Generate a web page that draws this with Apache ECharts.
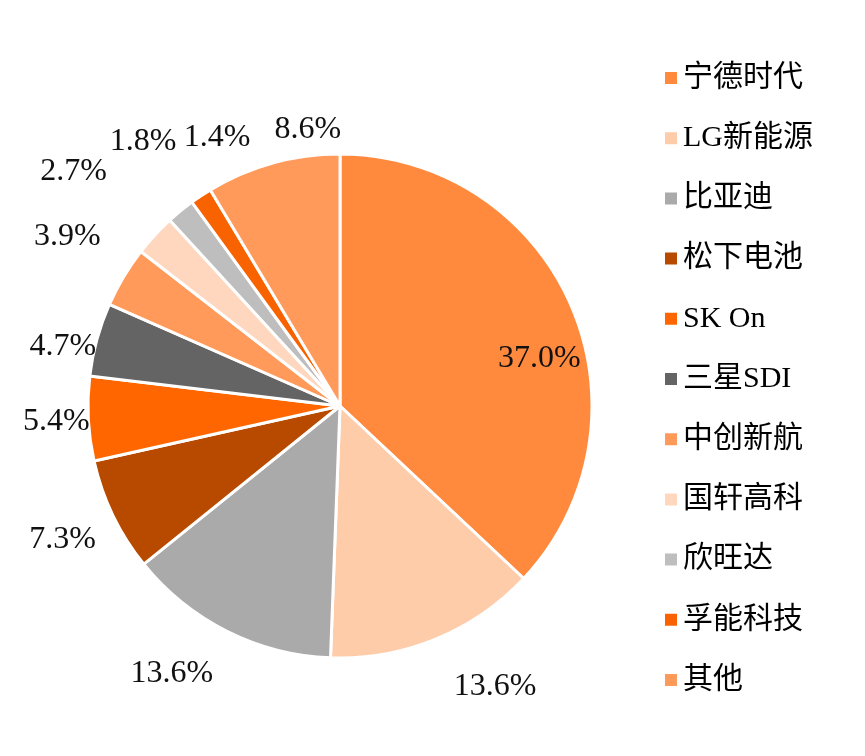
<!DOCTYPE html>
<html>
<head>
<meta charset="utf-8">
<script src="https://cdn.jsdelivr.net/npm/echarts@6/dist/echarts.min.js"></script>
<style>
  html, body { margin: 0; padding: 0; background: #fff; }
  #main { width: 865px; height: 756px; }
</style>
</head>
<body>
<div id="main"></div>
<script>
// 数据
var names = ['宁德时代', 'LG新能源', '比亚迪', '松下电池', 'SK On', '三星SDI', '中创新航', '国轩高科', '欣旺达', '孚能科技', '其他'];
var shares = [37.0, 13.6, 13.6, 7.3, 5.4, 4.7, 3.9, 2.7, 1.8, 1.4, 8.6];
var colors = ['#FF8A3D', '#FFCCAA', '#AAAAAA', '#B84A00', '#FF6600', '#646464', '#FF9A5A', '#FFD7BE', '#BEBEBE', '#F86300', '#FF9A5A'];

// 标签微调（仿 Excel 的 best fit 摆放）
var nudge = [[0, 0], [38, -4], [-30, -8], [0, 0], [24, 0], [20, 22], [-8, -12], [-40, -26], [-2, -26], [47, -12], [50, 20]];

var FONT = '"Liberation Serif", "Times New Roman", "Noto Sans CJK SC", serif';

var chart = echarts.init(document.getElementById('main'));

var mainData = [];
var ringData = [];
for (var i = 0; i < names.length; i++) {
    mainData.push({
        name: names[i],
        value: shares[i],
        itemStyle: { color: colors[i] },
        label: i === 0 ? { show: true, position: 'inside', offset: [81, 4] } : { show: false }
    });
    ringData.push({
        name: names[i],
        value: shares[i],
        label: { show: i !== 0, offset: nudge[i] }
    });
}

var option = {
    animation: false,
    legend: {
        orient: 'vertical',
        left: 663,
        top: 63,
        padding: 0,
        itemWidth: 14,
        itemHeight: 14,
        itemGap: 30.2,
        itemTextGap: 10,
        icon: 'rect',
        data: names,
        textStyle: { fontFamily: FONT, fontSize: 30, lineHeight: 30, color: '#000' }
    },
    series: [{
        type: 'pie',
        center: [340, 406],
        radius: [0, 252],
        startAngle: 90,
        clockwise: true,
        silent: true,
        itemStyle: { borderColor: '#fff', borderWidth: 3 },
        label: {
            fontFamily: FONT, fontSize: 32, color: '#111',
            formatter: function (p) { return p.value.toFixed(1) + '%'; }
        },
        labelLine: { show: false },
        data: mainData
    }, {
        type: 'pie',
        center: [340, 406],
        radius: [262, 348],
        startAngle: 90,
        clockwise: true,
        silent: true,
        itemStyle: { color: 'rgba(0,0,0,0)', borderWidth: 0 },
        label: {
            position: 'inside',
            fontFamily: FONT, fontSize: 32, color: '#111',
            formatter: function (p) { return p.value.toFixed(1) + '%'; }
        },
        labelLine: { show: false },
        data: ringData
    }]
};
chart.setOption(option);
</script>
</body>
</html>
